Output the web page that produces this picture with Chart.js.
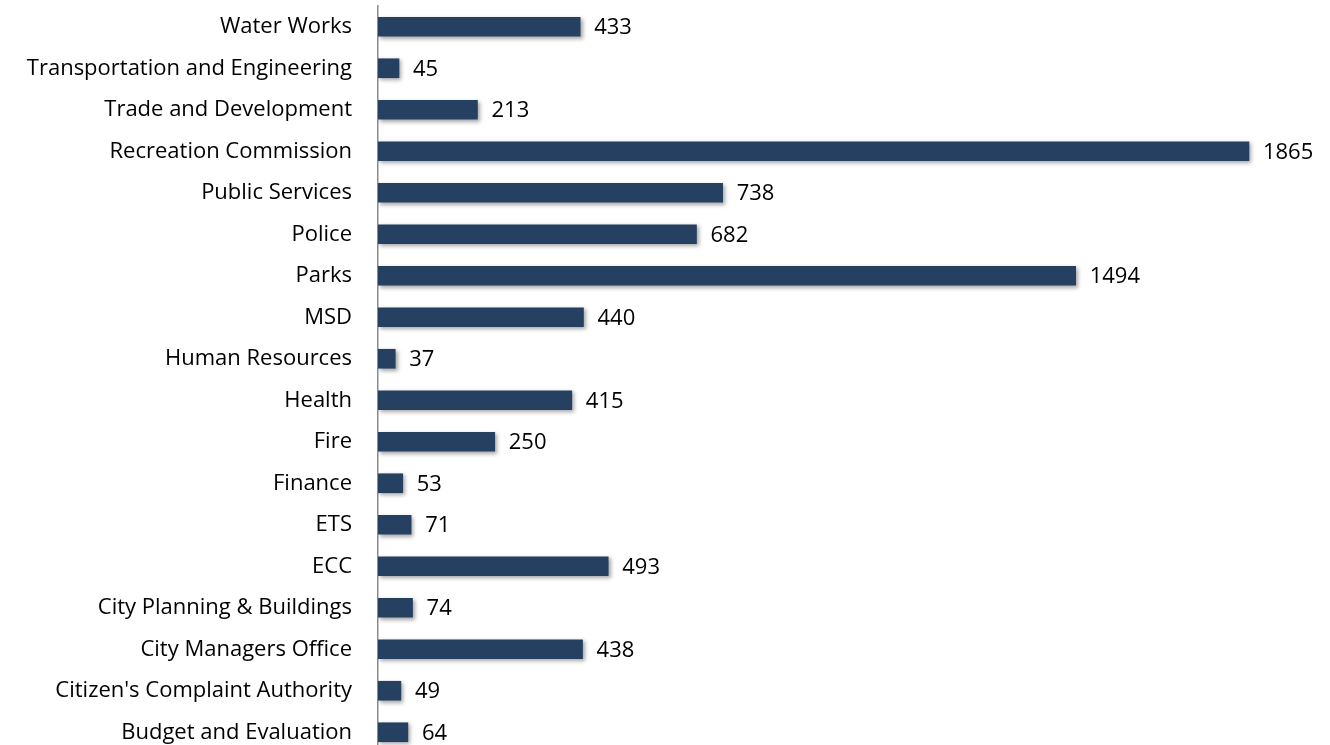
<!DOCTYPE html>
<html>
<head>
<meta charset="utf-8">
<script src="https://cdn.jsdelivr.net/npm/chart.js@4/dist/chart.umd.min.js"></script>
<style>
  html, body { margin: 0; padding: 0; background: #fff; overflow: hidden; }
  #wrap { width: 1330px; height: 760px; }
</style>
</head>
<body>
<div id="wrap"><canvas id="myChart01" width="1330" height="760"></canvas></div>
<script>
var etiquetas = ['Water Works', 'Transportation and Engineering', 'Trade and Development',
    'Recreation Commission', 'Public Services', 'Police', 'Parks', 'MSD', 'Human Resources',
    'Health', 'Fire', 'Finance', 'ETS', 'ECC', 'City Planning & Buildings',
    'City Managers Office', "Citizen's Complaint Authority", 'Budget and Evaluation'];
var datos = [433, 45, 213, 1865, 738, 682, 1494, 440, 37, 415, 250, 53, 71, 493, 74, 438, 49, 64];

var fuente = "'Open Sans', sans-serif";

// sombra suave bajo las barras
var sombraBarras = {
    id: 'sombraBarras',
    beforeDatasetsDraw: function (chart) {
        var ctx = chart.ctx;
        ctx.save();
        ctx.shadowColor = 'rgba(0,0,0,0.35)';
        ctx.shadowBlur = 4;
        ctx.shadowOffsetX = 2;
        ctx.shadowOffsetY = 2;
    },
    afterDatasetsDraw: function (chart) {
        chart.ctx.restore();
    }
};

// valores al final de cada barra
var valoresBarras = {
    id: 'valoresBarras',
    afterDraw: function (chart) {
        var ctx = chart.ctx;
        var meta = chart.getDatasetMeta(0);
        ctx.save();
        ctx.font = '22px ' + fuente;
        ctx.fillStyle = '#000';
        ctx.textAlign = 'left';
        ctx.textBaseline = 'middle';
        meta.data.forEach(function (bar, i) {
            ctx.fillText(chart.data.datasets[0].data[i], bar.x + 14, bar.y + 1);
        });
        ctx.restore();
    }
};

var ctx = document.getElementById('myChart01');
var myChart1 = new Chart(ctx, {
    type: 'bar',
    data: {
        labels: etiquetas,
        datasets: [{
            data: datos,
            backgroundColor: '#264062',
            borderWidth: 0,
            barThickness: 19
        }]
    },
    options: {
        indexAxis: 'y',
        responsive: false,
        animation: false,
        layout: { padding: { left: 0, right: 18, top: 6, bottom: 7 } },
        plugins: {
            legend: { display: false },
            tooltip: { enabled: false }
        },
        scales: {
            x: { display: false, min: 0, max: 2000 },
            y: {
                afterFit: function (scale) {
                    scale.width = 378;
                    scale.paddingTop = 0;
                    scale.paddingBottom = 0;
                },
                grid: { display: false, drawTicks: false },
                border: { display: true, color: '#8c8c8c', width: 1.5 },
                ticks: {
                    padding: 26,
                    color: '#000',
                    font: { family: fuente, size: 22 }
                }
            }
        }
    },
    plugins: [sombraBarras, valoresBarras]
});
</script>
</body>
</html>
